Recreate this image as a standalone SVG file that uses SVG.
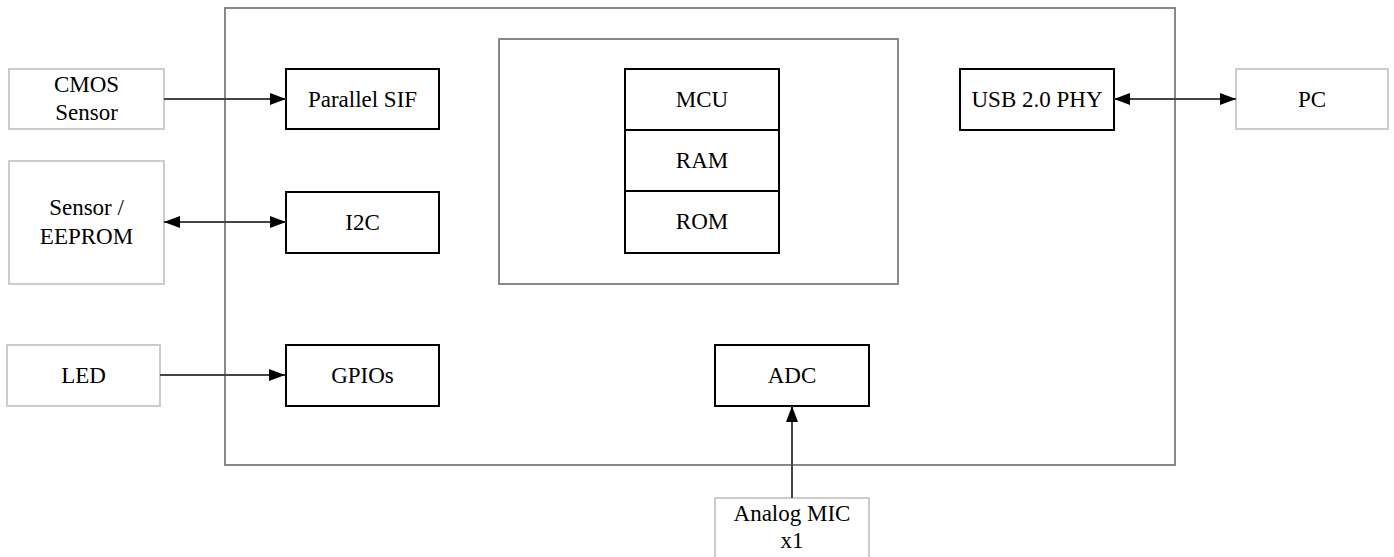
<svg xmlns="http://www.w3.org/2000/svg" width="1394" height="557" viewBox="0 0 1394 557">
<defs>
<marker id="ah" viewBox="0 0 16 12" refX="16" refY="6" markerWidth="16" markerHeight="12" markerUnits="userSpaceOnUse" orient="auto-start-reverse">
<path d="M0,0 L16,6 L0,12 Z" fill="#000"/>
</marker>
<style>
.frame{fill:#fff;stroke:#888;stroke-width:2}
.ext{fill:#fff;stroke:#ccc;stroke-width:2}
.blk{fill:#fff;stroke:#000;stroke-width:2}
.t{font-family:'Liberation Serif','Tinos','Times New Roman','Nimbus Roman','DejaVu Serif',serif;font-size:23px;fill:#000;text-anchor:middle}
.c{stroke:#444;stroke-width:2;fill:none}
</style>
</defs>
<rect width="1394" height="557" fill="#fff"/>
<g id="chip"><rect class="frame" x="225" y="8" width="950" height="457"/></g>
<g id="core"><rect class="frame" x="499" y="39" width="399" height="245"/></g>
<g id="cmos"><rect class="ext" x="9" y="69" width="155" height="60"/><text class="t" x="86.5" y="92">CMOS</text><text class="t" x="86.5" y="120">Sensor</text></g>
<g id="eeprom"><rect class="ext" x="9" y="161" width="155" height="123"/><text class="t" x="86.5" y="215">Sensor /</text><text class="t" x="86.5" y="244">EEPROM</text></g>
<g id="led"><rect class="ext" x="7" y="345" width="153" height="61"/><text class="t" x="83.5" y="383">LED</text></g>
<g id="psif"><rect class="blk" x="286" y="69" width="153" height="60"/><text class="t" x="362.5" y="107">Parallel SIF</text></g>
<g id="i2c"><rect class="blk" x="286" y="192" width="153" height="61"/><text class="t" x="362.5" y="230">I2C</text></g>
<g id="gpio"><rect class="blk" x="286" y="345" width="153" height="61"/><text class="t" x="362.5" y="383">GPIOs</text></g>
<g id="mcu"><rect class="blk" x="625" y="69" width="154" height="61"/><text class="t" x="702" y="107">MCU</text></g>
<g id="ram"><rect class="blk" x="625" y="130" width="154" height="61"/><text class="t" x="702" y="168">RAM</text></g>
<g id="rom"><rect class="blk" x="625" y="191" width="154" height="62"/><text class="t" x="702" y="229">ROM</text></g>
<g id="usb"><rect class="blk" x="960" y="69" width="154" height="61"/><text class="t" x="1037" y="107">USB 2.0 PHY</text></g>
<g id="pc"><rect class="ext" x="1236" y="69" width="152" height="60"/><text class="t" x="1312" y="107">PC</text></g>
<g id="adc"><rect class="blk" x="715" y="345" width="154" height="61"/><text class="t" x="792" y="383">ADC</text></g>
<g id="mic"><rect class="ext" x="715" y="498" width="154" height="70"/><text class="t" x="792" y="521">Analog MIC</text><text class="t" x="792" y="548">x1</text></g>
<g id="connectors">
<line class="c" x1="164" y1="99" x2="286" y2="99" marker-end="url(#ah)"/>
<line class="c" x1="164" y1="222" x2="286" y2="222" marker-start="url(#ah)" marker-end="url(#ah)"/>
<line class="c" x1="160" y1="375" x2="285" y2="375" marker-end="url(#ah)"/>
<line class="c" x1="1114" y1="99" x2="1236" y2="99" marker-start="url(#ah)" marker-end="url(#ah)"/>
<line class="c" x1="792" y1="498" x2="792" y2="406" marker-end="url(#ah)"/>
</g>
</svg>
